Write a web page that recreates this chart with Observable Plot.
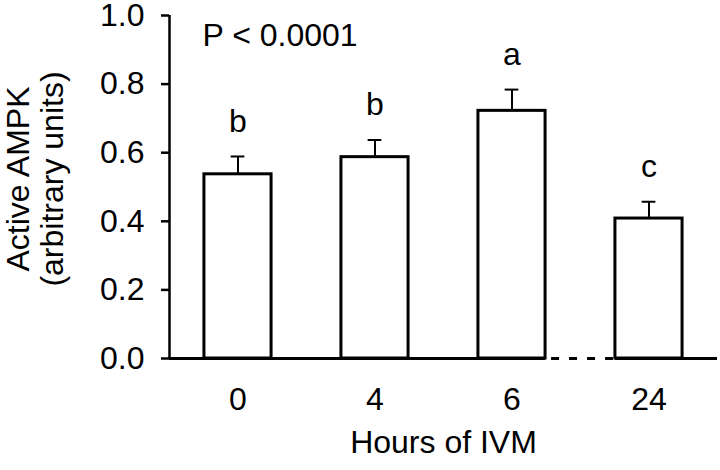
<!DOCTYPE html>
<html>
<head>
<meta charset="utf-8">
<script src="https://cdn.jsdelivr.net/npm/d3@7"></script>
<script src="https://cdn.jsdelivr.net/npm/@observablehq/plot@0.6"></script>
<style>
  html, body { margin: 0; padding: 0; background: #fff; }
</style>
</head>
<body>
<div id="chart"></div>
<script>
// ---- data ----
const hours = ["0", "4", "6", "24"];
const means = [0.537, 0.587, 0.722, 0.408];
const sems = [0.052, 0.050, 0.062, 0.049];
const letters = ["b", "b", "a", "c"];
const yTicks = [0, 0.2, 0.4, 0.6, 0.8, 1.0];
const pLabel = "P < 0.0001";
const xLabel = "Hours of IVM";
const yLabelLines = ["Active AMPK", "(arbitrary units)"];
const breakAfter = 2; // x-axis is broken between "6" and "24"

const data = hours.map((h, i) => ({ i, h, mean: means[i], sem: sems[i], letter: letters[i] }));

const hw = 0.245;   // half bar width (in category steps)
const capHW = 0.05; // half cap width
const breakStart = breakAfter + hw;
const breakEnd = breakAfter + 1 - hw;
const xMin = -0.5, xMax = hours.length - 0.5;

const FONT = "'Liberation Sans', Arial, Helvetica, sans-serif";

const chart = Plot.plot({
  width: 720,
  height: 470,
  marginLeft: 169,
  marginRight: 3,
  marginTop: 15,
  marginBottom: 112,
  style: { fontFamily: FONT, fontSize: "32px", color: "#000", background: "#fff", overflow: "visible" },
  x: { type: "linear", domain: [xMin, xMax], axis: null },
  y: { domain: [0, 1], axis: null },
  marks: [
    Plot.axisY({ ticks: yTicks, tickFormat: d3.format(".1f"), tickSize: 8, tickPadding: 17, strokeWidth: 2.5, label: null, fontSize: 32 }),
    Plot.axisX({ ticks: data.map(d => d.i), tickFormat: i => hours[i], tickSize: 0, tickPadding: 29, label: null, fontSize: 32 }),
    Plot.ruleX([xMin], { y1: 0, y2: 1, strokeWidth: 2.5 }),
    Plot.ruleX(data, { x: "i", y1: "mean", y2: d => d.mean + d.sem, strokeWidth: 2 }),
    Plot.rect(data, { x1: d => d.i - hw, x2: d => d.i + hw, y1: 0, y2: "mean", fill: "white", stroke: "black", strokeWidth: 3 }),
    Plot.ruleY(data, { y: d => d.mean + d.sem, x1: d => d.i - capHW, x2: d => d.i + capHW, strokeWidth: 2 }),
    Plot.ruleY([0], { x1: xMin, x2: breakStart, strokeWidth: 3 }),
    Plot.ruleY([0], { x1: breakStart, x2: breakEnd, strokeWidth: 3, strokeDasharray: "8 10", strokeDashoffset: 12 }),
    Plot.ruleY([0], { x1: breakEnd, x2: xMax, strokeWidth: 3 }),
    Plot.text(data, { x: "i", y: d => d.mean + d.sem, text: "letter", dy: -35, lineAnchor: "middle", fontSize: 32, fill: "black" }),
    Plot.text([pLabel], { frameAnchor: "top-left", textAnchor: "start", lineAnchor: "top", dx: 33, dy: 8, fontSize: 32, fill: "black" }),
    Plot.text([xLabel], { frameAnchor: "bottom", lineAnchor: "top", dy: 72, fontSize: 32, fill: "black" }),
    Plot.text([yLabelLines[0]], { x: xMin, y: 0.5, rotate: -90, lineAnchor: "bottom", textAnchor: "middle", dx: -141, dy: -8, fontSize: 32, fill: "black" }),
    Plot.text([yLabelLines[1]], { x: xMin, y: 0.5, rotate: -90, lineAnchor: "bottom", textAnchor: "middle", dx: -107, dy: -8, fontSize: 32, fill: "black" })
  ]
});

document.getElementById("chart").appendChild(chart);
</script>
</body>
</html>
